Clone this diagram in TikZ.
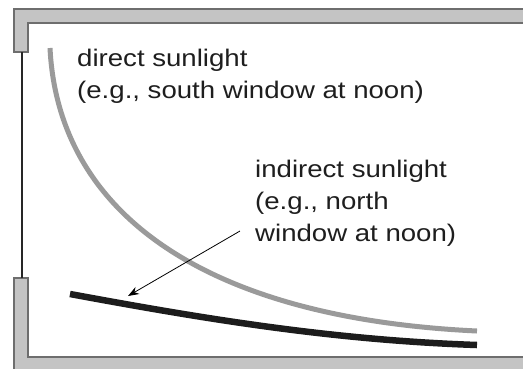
\documentclass[tikz,border=0pt]{standalone}
\usepackage{fontspec}
\newfontfamily\labfont[FakeStretch=1.15]{Liberation Sans}
\usetikzlibrary{arrows.meta}
\definecolor{wallgray}{HTML}{C4C4C4}
\definecolor{walledge}{HTML}{6E6E6E}
\definecolor{curvegray}{HTML}{9A9A9A}
\definecolor{curveblack}{HTML}{1C1C1C}
\definecolor{txt}{HTML}{1E1E1E}
\begin{document}
\begin{tikzpicture}[x=1pt,y=-1pt,
  wall/.style={fill=wallgray, draw=walledge, line width=1.4pt},
  windowline/.style={draw=black!85, line width=1.3pt},
  directcurve/.style={draw=curvegray, line width=5pt},
  indirectcurve/.style={draw=curveblack, line width=6.5pt},
  pointer/.style={draw=black, line width=0.8pt, -{Stealth[length=11pt,width=8pt]}},
  lbl/.style={anchor=base west, inner sep=0pt, font=\labfont\fontsize{24}{32}\selectfont, text=txt, align=left}]
\useasboundingbox (0,0) rectangle (523,368);
\clip (0,0) rectangle (523,368);
% walls
\draw[wall] (14,52) -- (14,9) -- (535,9) -- (535,23) -- (28,23) -- (28,52) -- cycle;
\draw[wall] (14,278) -- (14,380) -- (535,380) -- (535,357) -- (28,357) -- (28,278) -- cycle;
\draw[windowline] (22,52) -- (22,278);
% curves
\draw[directcurve] (50,48) .. controls (58,210) and (200,318) .. (477,331);
\draw[indirectcurve] (70,294) .. controls (200,318) and (330,340) .. (477,345);
% labels
\node[lbl] (direct) at (77,98) {direct sunlight\\(e.g., south window at noon)};
\node[lbl] (indirect) at (255,241) {indirect sunlight\\(e.g., north\\window at noon)};
\coordinate (ptrstart) at (240,231);
\coordinate (ptrend) at (128,296);
\draw[pointer] (ptrstart) -- (ptrend);
\end{tikzpicture}
\end{document}
